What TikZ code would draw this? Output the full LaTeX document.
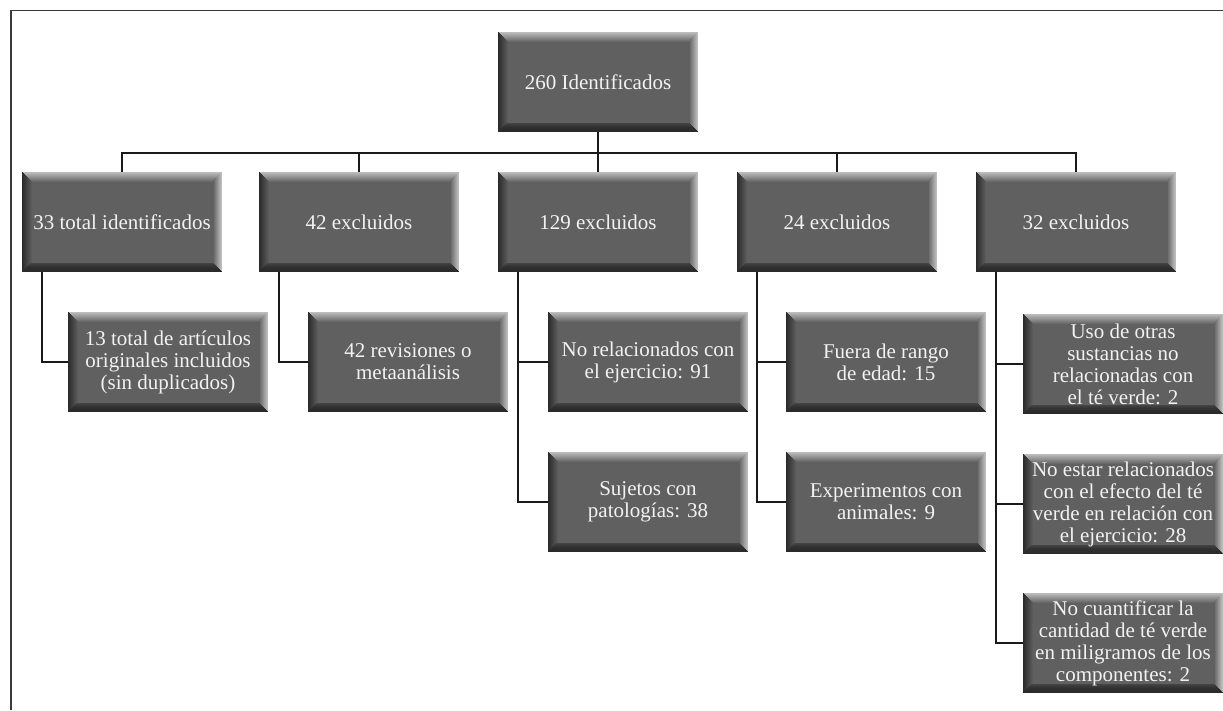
\documentclass[tikz,border=0pt]{standalone}
\usepackage{fontspec}
\setmainfont{Liberation Serif}
\usetikzlibrary{calc}
\definecolor{boxgray}{HTML}{606060}
\definecolor{bevdark}{HTML}{2A2A2A}
\definecolor{bevlight}{HTML}{BDBDBD}
\definecolor{txtwhite}{HTML}{F2F2F2}
\definecolor{linecol}{HTML}{1A1A1A}
\definecolor{framecol}{HTML}{3A3A3A}
\tikzset{
  bevelbox/.style={
    minimum width=200pt, minimum height=100pt, inner xsep=1pt, inner ysep=2pt,
    align=center, text=txtwhite, fill=boxgray,
    font=\fontsize{21}{22}\selectfont,
    path picture={
      \foreach \i in {0,...,9}{
        \pgfmathtruncatemacro\p{100-10*\i}
        \fill[bevlight!\p!boxgray]
          ($(path picture bounding box.north west)+(\i,\i)$) rectangle
          ($(path picture bounding box.north east)+(-\i,\i+1)$);
        \fill[bevdark!\p!boxgray]
          ($(path picture bounding box.north west)+(\i,\i)$) rectangle
          ($(path picture bounding box.south west)+(\i+1,-\i)$);
      }
      \foreach \i in {0,...,7}{
        \pgfmathtruncatemacro\p{100-12*\i}
        \fill[bevlight!\p!boxgray]
          ($(path picture bounding box.north east)+(-\i-1,\i)$) rectangle
          ($(path picture bounding box.south east)+(-\i,-\i)$);
      }
      \foreach \i in {0,...,8}{
        \pgfmathtruncatemacro\p{100-6*\i*\i/8}
        \fill[bevdark!\p!boxgray]
          ($(path picture bounding box.south west)+(\i,-\i-1)$) rectangle
          ($(path picture bounding box.south east)+(-\i,-\i)$);
      }
    }},
  conn/.style={draw=linecol, line width=1.7pt},
  framel/.style={draw=framecol, line width=1.6pt}
}
\begin{document}
\begin{tikzpicture}[x=1pt, y=-1pt]
\useasboundingbox (0,0) rectangle (1223,710);
\draw[framel] (11,710) -- (11,10.5) -- (1223,10.5);

% top
\node[bevelbox] (top) at (598,82) {260 Identificados};
% level 1
\node[bevelbox] (a) at (122,222) {33 total identificados};
\node[bevelbox] (b) at (359,222) {42 excluidos};
\node[bevelbox] (c) at (598,222) {129 excluidos};
\node[bevelbox] (d) at (837,222) {24 excluidos};
\node[bevelbox] (e) at (1076,222) {32 excluidos};
% level 2
\node[bevelbox] (a1) at (168,362) {13 total de artículos\\originales incluidos\\(sin duplicados)};
\node[bevelbox] (b1) at (408,362) {42 revisiones o\\metaanálisis};
\node[bevelbox] (c1) at (648,362) {No relacionados con\\el ejercicio: 91};
\node[bevelbox] (c2) at (648,502) {Sujetos con\\patologías: 38};
\node[bevelbox] (d1) at (886,362) {Fuera de rango\\de edad: 15};
\node[bevelbox] (d2) at (886,502) {Experimentos con\\animales: 9};
\node[bevelbox] (e1) at (1123,364) {Uso de otras\\sustancias no\\relacionadas con\\el té verde: 2};
\node[bevelbox] (e2) at (1123,504) {No estar relacionados\\con el efecto del té\\verde en relación con\\el ejercicio: 28};
\node[bevelbox] (e3) at (1123,643) {No cuantificar la\\cantidad de té verde\\en miligramos de los\\componentes: 2};

% spine coordinates
\coordinate (as) at ([xshift=20pt]a.south west);
\coordinate (bs) at ([xshift=20pt]b.south west);
\coordinate (cs) at ([xshift=20pt]c.south west);
\coordinate (ds) at ([xshift=20pt]d.south west);
\coordinate (es) at ([xshift=20pt]e.south west);

% connectors level 0 -> 1
\coordinate (hub) at (598,153);
\draw[conn] (top.south) -- (top.south |- hub);
\draw[conn] (a.north) -- (a.north |- hub) -- (e.north |- hub) -- (e.north);
\draw[conn] (b.north) -- (b.north |- hub);
\draw[conn] (c.north) -- (c.north |- hub);
\draw[conn] (d.north) -- (d.north |- hub);

% connectors level 1 -> 2
\draw[conn] (as) |- (a1.west);
\draw[conn] (bs) |- (b1.west);
\draw[conn] (cs) |- (c2.west);
\draw[conn] (c1.west) -- (c1.west -| cs);
\draw[conn] (ds) |- (d2.west);
\draw[conn] (d1.west) -- (d1.west -| ds);
\draw[conn] (es) |- (e3.west);
\draw[conn] (e1.west) -- (e1.west -| es);
\draw[conn] (e2.west) -- (e2.west -| es);
\end{tikzpicture}
\end{document}
